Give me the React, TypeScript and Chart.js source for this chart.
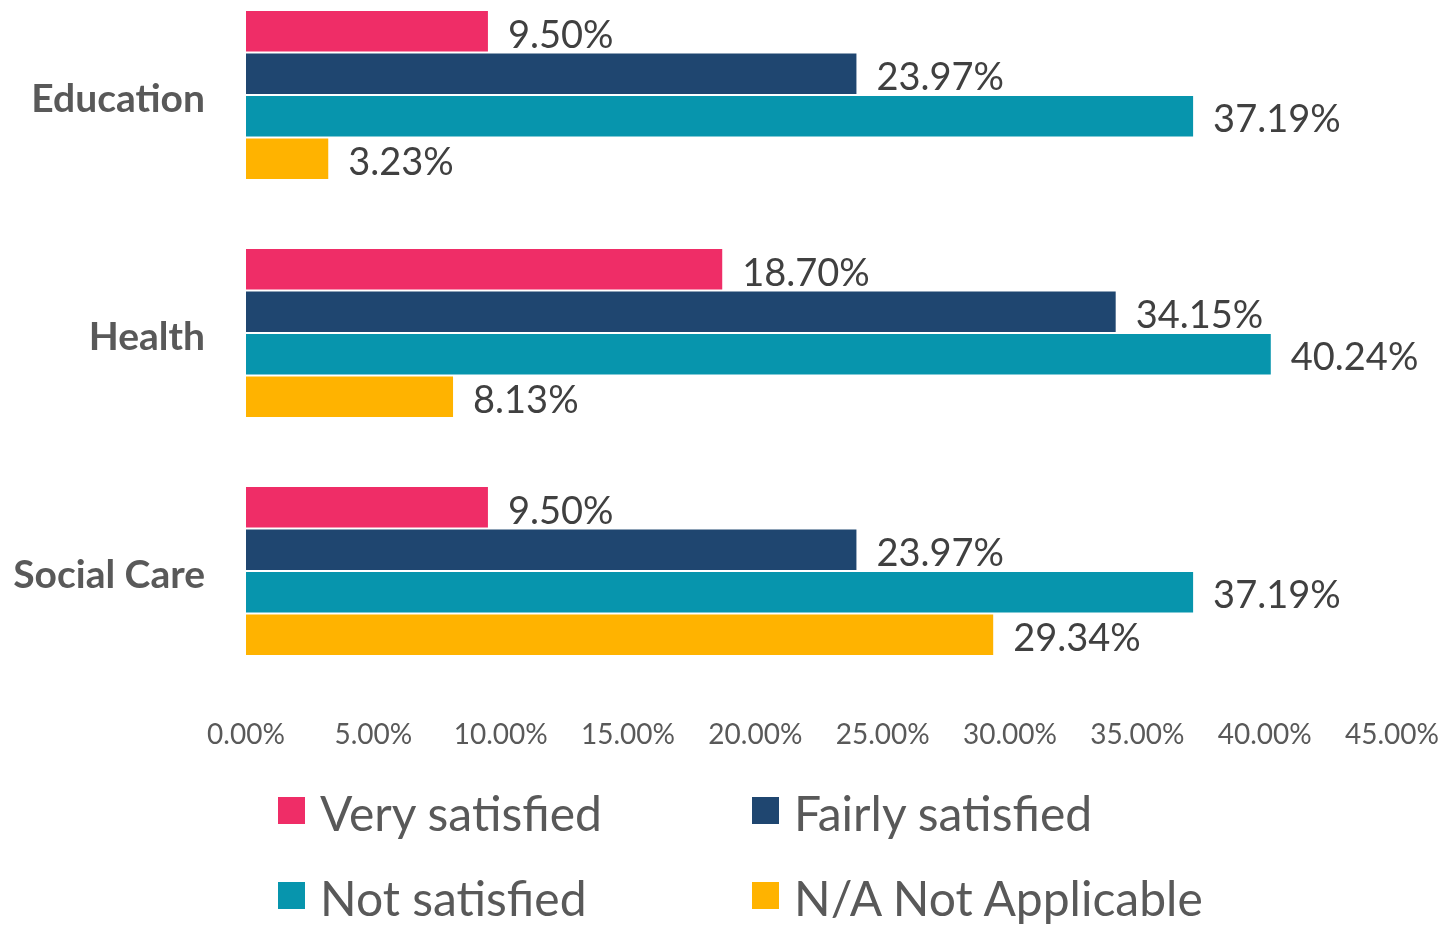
import React, { useEffect, useRef } from "react";
import { Chart, registerables } from "chart.js";

Chart.register(...registerables);

const categories = ["Education", "Health", "Social Care"];
const seriesNames = ["Very satisfied", "Fairly satisfied", "Not satisfied", "N/A Not Applicable"];
const verySatisfied = [9.5, 18.7, 9.5];
const fairlySatisfied = [23.97, 34.15, 23.97];
const notSatisfied = [37.19, 40.24, 37.19];
const notApplicable = [3.23, 8.13, 29.34];
const seriesColors = ["#EF2D67", "#1F4670", "#0795AD", "#FFB300"];
const xTickStep = 5;
const xMax = 45;

const FONT = "Lato, 'Open Sans', sans-serif";

const labelPlugin = {
  id: "barLabels",
  afterDatasetsDraw(chart: any) {
    const ctx = chart.ctx;
    ctx.save();
    ctx.font = `38px ${FONT}`;
    ctx.fillStyle = "#404040";
    ctx.textAlign = "left";
    ctx.textBaseline = "middle";
    chart.data.datasets.forEach((ds: any, di: number) => {
      const meta = chart.getDatasetMeta(di);
      meta.data.forEach((bar: any, i: number) => {
        const v = ds.data[i];
        ctx.fillText(v.toFixed(2) + "%", bar.x + 20, bar.y + 4);
      });
    });
    ctx.restore();
  },
};

export default function App() {
  const ref = useRef<HTMLCanvasElement | null>(null);
  useEffect(() => {
    if (!ref.current) return;
    const chart = new Chart(ref.current, {
      type: "bar",
      data: {
        labels: categories,
        datasets: [verySatisfied, fairlySatisfied, notSatisfied, notApplicable].map((d, i) => ({
          label: seriesNames[i],
          data: d,
          backgroundColor: seriesColors[i],
          categoryPercentage: 0.714,
          barPercentage: 0.95,
        })),
      },
      options: {
        indexAxis: "y",
        animation: false,
        responsive: false,
        maintainAspectRatio: false,
        layout: { padding: { top: 0, right: 53, bottom: 173, left: 0 } },
        plugins: { legend: { display: false }, tooltip: { enabled: false } },
        scales: {
          x: {
            min: 0,
            max: xMax,
            border: { display: false },
            grid: { display: false, drawTicks: false },
            afterFit: (s: any) => {
              s.height = 62;
              s.paddingLeft = 0;
              s.paddingRight = 0;
            },
            ticks: {
              stepSize: xTickStep,
              padding: 28,
              color: "#595959",
              font: { family: FONT, size: 28 },
              maxRotation: 0,
              autoSkip: false,
              callback: (v: any) => Number(v).toFixed(2) + "%",
            },
          },
          y: {
            border: { display: false },
            grid: { display: false, drawTicks: false },
            afterFit: (s: any) => {
              s.width = 246;
              s.paddingTop = 0;
              s.paddingBottom = 0;
            },
            ticks: {
              padding: 41,
              labelOffset: 4,
              color: "#595959",
              font: { family: FONT, size: 39, weight: "bold" },
            },
          },
        },
      },
      plugins: [labelPlugin],
    });
    return () => chart.destroy();
  }, []);

  const legendPos = [
    { x: 278, y: 797 },
    { x: 752, y: 797 },
    { x: 278, y: 882 },
    { x: 752, y: 882 },
  ];

  return (
    <div style={{ position: "absolute", left: 0, top: 0, width: 1445, height: 925, overflow: "hidden", background: "#fff" }}>
      <div style={{ position: "absolute", left: 0, top: -24, width: 1445, height: 949 }}>
        <canvas ref={ref} width={1445} height={949} style={{ width: 1445, height: 949 }} />
      </div>
      {seriesNames.map((n, i) => (
        <div key={n} style={{ position: "absolute", left: legendPos[i].x, top: legendPos[i].y, height: 27, display: "flex", alignItems: "center", whiteSpace: "nowrap" }}>
          <div style={{ width: 27, height: 27, background: seriesColors[i], flex: "none" }} />
          <span style={{ marginLeft: 15, fontFamily: FONT, fontSize: 48, color: "#595959", lineHeight: "27px", position: "relative", top: 2 }}>{n}</span>
        </div>
      ))}
    </div>
  );
}
